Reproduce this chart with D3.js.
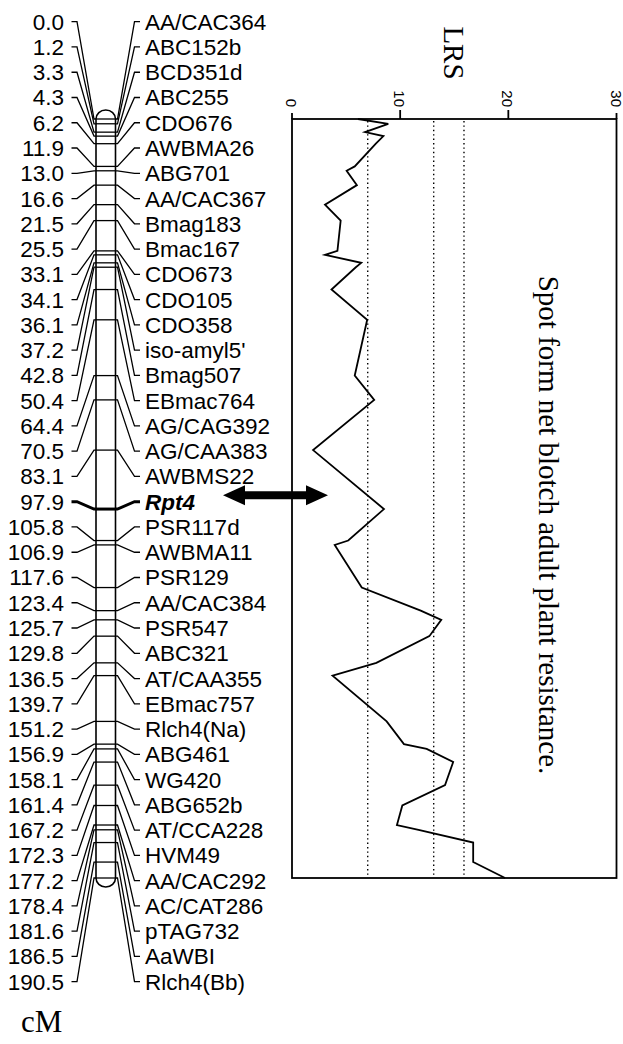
<!DOCTYPE html>
<html>
<head>
<meta charset="utf-8">
<script src="https://cdn.jsdelivr.net/npm/d3@7"></script>
<style>
  html, body { margin: 0; padding: 0; background: #fff; }
  svg { display: block; }
</style>
</head>
<body>
<div id="chart"></div>
<script>
// marker names, map positions (cM) and LRS at each marker
const markers = [
  'AA/CAC364', 'ABC152b', 'BCD351d', 'ABC255', 'CDO676', 'AWBMA26', 'ABG701',
  'AA/CAC367', 'Bmag183', 'Bmac167', 'CDO673', 'CDO105', 'CDO358', "iso-amyl5'",
  'Bmag507', 'EBmac764', 'AG/CAG392', 'AG/CAA383', 'AWBMS22', 'Rpt4', 'PSR117d',
  'AWBMA11', 'PSR129', 'AA/CAC384', 'PSR547', 'ABC321', 'AT/CAA355', 'EBmac757',
  'Rlch4(Na)', 'ABG461', 'WG420', 'ABG652b', 'AT/CCA228', 'HVM49', 'AA/CAC292',
  'AC/CAT286', 'pTAG732', 'AaWBI', 'Rlch4(Bb)'
];
const positions = [
  0.0, 1.2, 3.3, 4.3, 6.2, 11.9, 13.0, 16.6, 21.5, 25.5, 33.1, 34.1, 36.1, 37.2,
  42.8, 50.4, 64.4, 70.5, 83.1, 97.9, 105.8, 106.9, 117.6, 123.4, 125.7, 129.8,
  136.5, 139.7, 151.2, 156.9, 158.1, 161.4, 167.2, 172.3, 177.2, 178.4, 181.6,
  186.5, 190.5
];
const lrsValues = [
  6.1, 8.9, 6.75, 8.45, 7.75, 5.8, 5.05, 6.0, 3.05, 4.5, 4.2, 3.05, 6.4, 5.9,
  3.65, 6.95, 5.8, 7.6, 1.95, 8.5, 5.2, 3.95, 6.45, 11.9, 13.8, 12.7,
  7.8, 3.75, 8.75, 10.35, 12.45, 14.9, 14.15, 10.2, 9.7, 11.7, 16.75,
  16.75, 19.7
];
const thresholds = [7.0, 13.1, 15.9];
const lrsTicks = [0, 10, 20, 30];
const qtlMarker = 'Rpt4';

const width = 623, height = 1044;
const sans = 'Liberation Sans, Arial, Helvetica, sans-serif';
const serif = 'Liberation Serif, Times New Roman, serif';

const svg = d3.select('#chart').append('svg')
  .attr('width', width)
  .attr('height', height);

// scales
const y = d3.scaleLinear().domain([0, 190.5]).range([119, 878]);
const x = d3.scaleLinear().domain([0, 30]).range([292, 616.5]);
const slot = d3.scaleLinear().domain([0, markers.length - 1]).range([21.7, 981.7]);

const chrL = 96, chrR = 115.5, capR = 9;

// connectors from labels to chromosome
const link = d3.line();
markers.forEach((m, i) => {
  const ly = slot(i), ty = y(positions[i]);
  const bold = m === qtlMarker;
  svg.append('path')
    .attr('d', link([[71.5, ly], [77, ly], [94, ty], [chrL, ty]]))
    .attr('fill', 'none').attr('stroke', '#000')
    .attr('stroke-width', bold ? 3 : 1.3);
  svg.append('path')
    .attr('d', link([[chrR, ty], [117.5, ty], [134.5, ly], [140, ly]]))
    .attr('fill', 'none').attr('stroke', '#000')
    .attr('stroke-width', bold ? 3 : 1.3);
});

// chromosome body with rounded caps
const chrTop = y(0), chrBot = y(190.5);
svg.append('path')
  .attr('d', `M${chrL},${chrTop} A${(chrR - chrL) / 2},${capR} 0 0 1 ${chrR},${chrTop}` +
    ` L${chrR},${chrBot} A${(chrR - chrL) / 2},${capR} 0 0 1 ${chrL},${chrBot} Z`)
  .attr('fill', '#fff').attr('stroke', '#000').attr('stroke-width', 1.6);

svg.selectAll('line.tick-chr')
  .data(markers)
  .enter().append('line')
  .attr('class', 'tick-chr')
  .attr('x1', chrL).attr('x2', chrR)
  .attr('y1', (d, i) => y(positions[i]))
  .attr('y2', (d, i) => y(positions[i]))
  .attr('stroke', '#000')
  .attr('stroke-width', d => d === qtlMarker ? 3 : 1.3);

// position labels (left) and marker names (right)
svg.selectAll('text.pos')
  .data(positions)
  .enter().append('text')
  .attr('class', 'pos')
  .attr('x', 64)
  .attr('y', (d, i) => slot(i) + 8)
  .attr('text-anchor', 'end')
  .style('font-family', sans).style('font-size', '22.5px')
  .text(d => d.toFixed(1));

svg.selectAll('text.name')
  .data(markers)
  .enter().append('text')
  .attr('class', 'name')
  .attr('x', 145)
  .attr('y', (d, i) => slot(i) + 8)
  .style('font-family', sans).style('font-size', '22.5px')
  .style('font-weight', d => d === qtlMarker ? 'bold' : 'normal')
  .style('font-style', d => d === qtlMarker ? 'italic' : 'normal')
  .text(d => d);

svg.append('text')
  .attr('x', 21).attr('y', 1032)
  .style('font-family', serif).style('font-size', '31px')
  .text('cM');

// double headed arrow at the QTL
const ay = slot(markers.indexOf(qtlMarker)) - 6.5;
const ax1 = 223, ax2 = 328, head = 22, hh = 10, sh = 4;
svg.append('path')
  .attr('d', `M${ax1},${ay} L${ax1 + head},${ay - hh} L${ax1 + head},${ay - sh}` +
    ` L${ax2 - head},${ay - sh} L${ax2 - head},${ay - hh} L${ax2},${ay}` +
    ` L${ax2 - head},${ay + hh} L${ax2 - head},${ay + sh} L${ax1 + head},${ay + sh}` +
    ` L${ax1 + head},${ay + hh} Z`)
  .attr('fill', '#000');

// LRS panel
const pTop = y(0), pBot = y(190.5);

svg.selectAll('line.thr')
  .data(thresholds)
  .enter().append('line')
  .attr('class', 'thr')
  .attr('x1', d => x(d)).attr('x2', d => x(d))
  .attr('y1', pTop + 2).attr('y2', pBot - 2)
  .attr('stroke', '#000').attr('stroke-width', 1.4)
  .attr('stroke-dasharray', '1.4,3');

const profile = d3.line()
  .x(d => x(d[1]))
  .y(d => y(d[0]));
svg.append('path')
  .datum(positions.map((p, i) => [p, lrsValues[i]]))
  .attr('d', profile)
  .attr('fill', 'none')
  .attr('stroke', '#000')
  .attr('stroke-width', 1.8)
  .attr('stroke-linejoin', 'miter');

svg.append('rect')
  .attr('x', x(0)).attr('y', pTop)
  .attr('width', x(30) - x(0)).attr('height', pBot - pTop)
  .attr('fill', 'none').attr('stroke', '#000').attr('stroke-width', 1.8);

// axis ticks on top, pointing outwards
svg.selectAll('line.xt')
  .data(lrsTicks)
  .enter().append('line')
  .attr('class', 'xt')
  .attr('x1', d => x(d)).attr('x2', d => x(d))
  .attr('y1', pTop).attr('y2', d => (d === 0 || d === 30) ? pTop - 6 : pTop - 9)
  .attr('stroke', '#000').attr('stroke-width', 1.8);

svg.selectAll('text.xl')
  .data(lrsTicks)
  .enter().append('text')
  .attr('class', 'xl')
  .attr('transform', d => `translate(${x(d) - 6},107) rotate(90)`)
  .attr('text-anchor', 'end')
  .style('font-family', sans).style('font-size', '15px')
  .text(d => d);

svg.append('text')
  .attr('transform', 'translate(444,53) rotate(90)')
  .attr('text-anchor', 'middle')
  .style('font-family', serif).style('font-size', '29px')
  .text('LRS');

svg.append('text')
  .attr('transform', 'translate(538.5,525) rotate(90)')
  .attr('text-anchor', 'middle')
  .style('font-family', serif).style('font-size', '29px')
  .text('Spot form net blotch adult plant resistance.');
</script>
</body>
</html>
